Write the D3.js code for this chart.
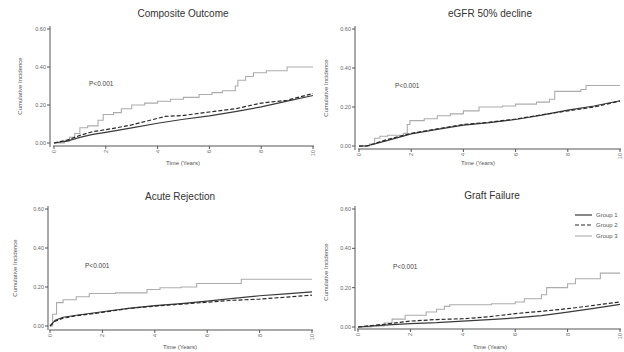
<!DOCTYPE html>
<html><head><meta charset="utf-8">
<script src="https://cdn.jsdelivr.net/npm/d3@7/dist/d3.min.js"></script>
<style>html,body{margin:0;padding:0;background:#fff;}svg{display:block;}</style>
</head><body>
<svg id="c" width="624" height="352"></svg>
<script>
const panelTitles = ["Composite Outcome", "eGFR 50% decline", "Acute Rejection", "Graft Failure"];
const pLabels = ["P<0.001", "P<0.001", "P<0.001", "P<0.001"];
const groupNames = ["Group 1", "Group 2", "Group 3"];
const xTicks = [0, 2, 4, 6, 8, 10];
const yTicks = [0, 0.2, 0.4, 0.6];
const yTickLabels = ["0.00", "0.20", "0.40", "0.60"];

// [time (years), cumulative incidence]
const compositeG1 = [[0,0],[0.5,0.01],[1,0.03],[1.5,0.045],[2,0.056],[3,0.08],[4,0.104],[5,0.125],[6,0.143],[7,0.165],[8,0.19],[9,0.22],[10,0.25]];
const compositeG2 = [[0,0],[0.5,0.015],[1,0.04],[1.5,0.06],[2,0.07],[3,0.095],[4,0.13],[4.3,0.14],[5,0.145],[6,0.163],[7,0.18],[8,0.21],[9,0.225],[10,0.26]];
const compositeG3 = [[0,0],[0.4,0.01],[0.6,0.03],[0.8,0.05],[1.0,0.08],[1.3,0.09],[1.7,0.12],[1.9,0.15],[2.3,0.16],[2.6,0.18],[3.0,0.2],[3.5,0.21],[4.0,0.22],[4.5,0.23],[5.0,0.24],[5.6,0.255],[6.1,0.265],[6.5,0.275],[7.0,0.3],[7.1,0.33],[7.4,0.35],[7.7,0.37],[8.2,0.38],[9.0,0.4],[10,0.4]];

const egfrG1 = [[0,0],[0.3,0],[1,0.025],[2,0.062],[3,0.085],[4,0.107],[5,0.12],[6,0.136],[7,0.158],[8,0.184],[9,0.205],[10,0.232]];
const egfrG2 = [[0,0],[0.3,0],[1,0.03],[2,0.065],[3,0.088],[4,0.11],[5,0.122],[6,0.138],[7,0.16],[8,0.18],[9,0.2],[10,0.23]];
const egfrG3 = [[0,0],[0.4,0.01],[0.6,0.04],[0.8,0.05],[1.1,0.055],[1.7,0.065],[1.85,0.11],[1.95,0.13],[2.5,0.14],[3.0,0.155],[3.5,0.165],[4.0,0.18],[4.6,0.2],[5.5,0.205],[6.0,0.215],[6.8,0.225],[7.3,0.24],[7.5,0.28],[8.5,0.29],[8.7,0.31],[10,0.31]];

const acuteG1 = [[0,0],[0.2,0.03],[0.5,0.045],[1,0.055],[2,0.073],[3,0.09],[4,0.104],[5,0.115],[6,0.128],[7,0.142],[8,0.155],[9,0.165],[10,0.175]];
const acuteG2 = [[0,0],[0.2,0.025],[0.5,0.04],[1,0.052],[2,0.07],[3,0.09],[4,0.102],[5,0.112],[6,0.122],[7,0.132],[8,0.138],[9,0.148],[10,0.158]];
const acuteG3 = [[0,0],[0.1,0.06],[0.25,0.12],[0.5,0.135],[1.0,0.15],[1.5,0.167],[2.5,0.17],[3.7,0.187],[4.2,0.196],[5.0,0.2],[5.6,0.218],[7.3,0.24],[10,0.24]];

const graftG1 = [[0,0],[1,0.01],[2,0.017],[3,0.022],[4,0.03],[5,0.037],[6,0.046],[7,0.058],[8,0.076],[9,0.095],[10,0.115]];
const graftG2 = [[0,0],[1,0.014],[2,0.03],[3,0.038],[4,0.042],[5,0.052],[6,0.068],[7,0.08],[8,0.093],[9,0.11],[10,0.127]];
const graftG3 = [[0,0],[0.5,0.005],[1,0.02],[1.3,0.04],[1.8,0.06],[2.6,0.076],[3.0,0.09],[3.3,0.105],[3.5,0.113],[5.1,0.118],[6.0,0.127],[6.35,0.144],[7.0,0.164],[7.2,0.2],[8.0,0.22],[8.3,0.245],[9.25,0.274],[10,0.274]];

const panelSeries = [
  [compositeG1, compositeG2, compositeG3],
  [egfrG1, egfrG2, egfrG3],
  [acuteG1, acuteG2, acuteG3],
  [graftG1, graftG2, graftG3]
];

// layout
const layout = [
  {x0:54, x1:313, y0:143, y1:29, yAx:50, xAx:146, tx:183, ty:17, xl:183, xly:165, ylx:22, yly:86, px:89, py:86},
  {x0:359, x1:620, y0:146, y1:29, yAx:355, xAx:149, tx:490, ty:17, xl:478, xly:165, ylx:328, yly:88, px:395, py:88},
  {x0:50, x1:312, y0:326, y1:209, yAx:48, xAx:330, tx:180, ty:200, xl:180, xly:349, ylx:17, yly:268, px:85, py:268},
  {x0:358, x1:620, y0:327, y1:209, yAx:355, xAx:329, tx:492, ty:199, xl:490, xly:349, ylx:328, yly:272, px:393, py:269}
];
const styles = [
  {stroke:"#3a3a3a", width:1.2, dash:null, curve:d3.curveLinear},
  {stroke:"#2a2a2a", width:1.2, dash:"4,2", curve:d3.curveLinear},
  {stroke:"#acacac", width:1.1, dash:null, curve:d3.curveStepAfter}
];
const FONT = "'Liberation Sans', Arial, sans-serif";
const svg = d3.select("#c");

panelSeries.forEach((series, i) => {
  const L = layout[i];
  const x = d3.scaleLinear().domain([0,10]).range([L.x0, L.x1]);
  const y = d3.scaleLinear().domain([0,0.6]).range([L.y0, L.y1]);
  const g = svg.append("g");

  g.append("text").attr("x", L.tx).attr("y", L.ty).attr("text-anchor","middle")
    .attr("font-family", FONT).attr("font-size", 10).attr("fill","#333").text(panelTitles[i]);

  g.append("line").attr("x1", L.yAx).attr("x2", L.yAx).attr("y1", y(0.6)-3).attr("y2", y(0)+4)
    .attr("stroke","#555").attr("stroke-width",1);
  yTicks.forEach((t, k) => {
    g.append("line").attr("x1", L.yAx-3).attr("x2", L.yAx).attr("y1", y(t)).attr("y2", y(t)).attr("stroke","#555");
    g.append("text").attr("x", L.yAx-4).attr("y", y(t)).attr("dy","0.35em").attr("text-anchor","end")
      .attr("font-family", FONT).attr("font-size", 5.5).attr("fill","#666").text(yTickLabels[k]);
  });

  g.append("line").attr("x1", x(0)-1).attr("x2", x(10)+1).attr("y1", L.xAx).attr("y2", L.xAx)
    .attr("stroke","#555").attr("stroke-width",1);
  xTicks.forEach(t => {
    g.append("line").attr("x1", x(t)).attr("x2", x(t)).attr("y1", L.xAx).attr("y2", L.xAx+3).attr("stroke","#555");
    g.append("text").attr("transform", `translate(${x(t)},${L.xAx+4}) rotate(-90)`).attr("dy","0.35em")
      .attr("text-anchor","end").attr("font-family", FONT).attr("font-size", 5.5).attr("fill","#666").text(t);
  });

  g.append("text").attr("x", L.xl).attr("y", L.xly).attr("text-anchor","middle")
    .attr("font-family", FONT).attr("font-size", 6).attr("fill","#555").text("Time (Years)");
  g.append("text").attr("transform", `translate(${L.ylx},${L.yly}) rotate(-90)`).attr("text-anchor","middle")
    .attr("font-family", FONT).attr("font-size", 6).attr("fill","#555").text("Cumulative Incidence");

  g.append("text").attr("x", L.px).attr("y", L.py).attr("font-family", FONT).attr("font-size", 6.5)
    .attr("fill","#444").text(pLabels[i]);

  [2,0,1].forEach(s => {
    const st = styles[s];
    const line = d3.line().x(d => x(d[0])).y(d => y(d[1])).curve(st.curve);
    g.append("path").datum(series[s]).attr("d", line).attr("fill","none")
      .attr("stroke", st.stroke).attr("stroke-width", st.width)
      .attr("stroke-dasharray", st.dash);
  });
});

const leg = svg.append("g");
const legY = [215, 225, 236];
groupNames.forEach((n, k) => {
  const st = styles[k];
  leg.append("line").attr("x1", 575).attr("x2", 592).attr("y1", legY[k]).attr("y2", legY[k])
    .attr("stroke", st.stroke).attr("stroke-width", st.width).attr("stroke-dasharray", st.dash);
  leg.append("text").attr("x", 596).attr("y", legY[k]).attr("dy","0.35em")
    .attr("font-family", FONT).attr("font-size", 6).attr("fill","#555").text(n);
});
</script>
</body></html>
